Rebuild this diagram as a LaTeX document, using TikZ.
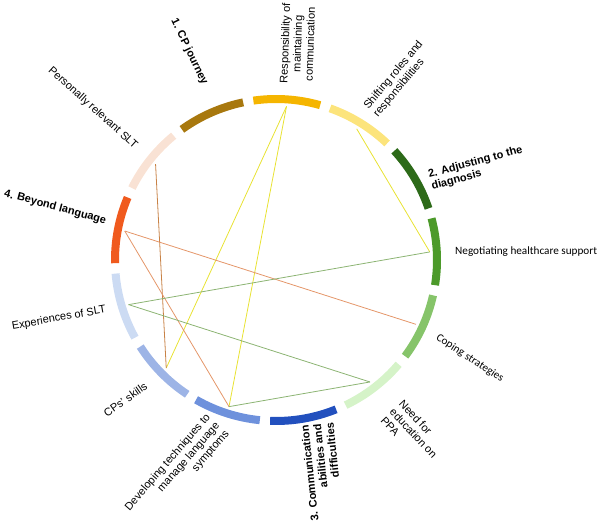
\documentclass[tikz,border=0pt]{standalone}
\usepackage{fontspec}
\setmainfont{Liberation Sans}
\newfontfamily\calibrifont{Carlito}
\usepackage{tikz}
\definecolor{negcol}{RGB}{76,154,42}
\definecolor{adjcol}{RGB}{45,106,25}
\definecolor{shicol}{RGB}{252,228,124}
\definecolor{rescol}{RGB}{245,181,0}
\definecolor{cpjcol}{RGB}{168,120,14}
\definecolor{percol}{RGB}{249,226,212}
\definecolor{beycol}{RGB}{240,90,30}
\definecolor{expcol}{RGB}{204,219,243}
\definecolor{skicol}{RGB}{157,180,230}
\definecolor{devcol}{RGB}{110,145,220}
\definecolor{comcol}{RGB}{34,80,190}
\definecolor{neecol}{RGB}{213,243,200}
\definecolor{copcol}{RGB}{134,196,106}
\definecolor{linkyellow}{RGB}{232,226,50}
\definecolor{linkbrown}{RGB}{200,130,70}
\definecolor{linkorange}{RGB}{228,150,105}
\definecolor{linkgreen}{RGB}{140,180,115}

\begin{document}
\begin{tikzpicture}[x=1pt, y=1pt,
    seg/.style={line width=8pt},
    link/.style={line width=0.8pt},
    lbl/.style={inner sep=0pt, font=\fontsize{11}{12.5}\selectfont},
    theme/.style={inner sep=0pt, font=\fontsize{11}{12.5}\selectfont\bfseries},
    cal/.style={inner sep=0pt, font=\calibrifont\fontsize{11.2}{13}\selectfont},
]
    \useasboundingbox (0,0) rectangle (598,527);

    % Segments round the circle
    \begin{scope}[shift={(276,267)}]
        \foreach \name/\col [count=\k from 0] in {neg/negcol, adj/adjcol, shi/shicol,
            res/rescol, cpj/cpjcol, per/percol, bey/beycol, exp/expcol, ski/skicol,
            dev/devcol, com/comcol, nee/neecol, cop/copcol} {
            \pgfmathsetmacro{\segang}{3+\k*360/13}
            \draw[seg, \col] (\segang-12:161) arc[start angle=\segang-12, end angle=\segang+12, radius=161];
            \coordinate (\name) at (\segang:154);
        }
    \end{scope}

    % Links
    \draw[link, linkyellow] (res) -- (ski);
    \draw[link, linkyellow] (res) -- (dev);
    \draw[link, linkyellow] (shi) -- (neg);
    \draw[link, linkbrown] (per) -- (ski);
    \draw[link, linkorange] (bey) -- (cop);
    \draw[link, linkorange] (bey) -- (dev);
    \draw[link, linkgreen] (exp) -- (neg);
    \draw[link, linkgreen] (exp) -- (nee);
    \draw[link, linkgreen] (dev) -- (nee);

    % Labels
    \node[cal, anchor=west] (negl) at (455,275) {Negotiating healthcare support};
    \node[theme, anchor=west, rotate=15, align=left] (adjl) at (430,346) {2. Adjusting to the\\diagnosis};
    \node[lbl, anchor=west, rotate=50, align=left] (shil) at (371,415) {Shifting roles and\\responsibilities};
    \node[lbl, anchor=west, rotate=88, align=center] (resl) at (296,443) {Responsibility of\\maintaining\\communication};
    \node[theme, anchor=east, rotate=-64] (cpjl) at (205,443) {1. CP journey};
    \node[lbl, anchor=east, rotate=-42] (perl) at (136,380) {Personally relevant SLT};
    \node[theme, anchor=east, rotate=-15] (beyl) at (106,306) {4. Beyond language};
    \node[lbl, anchor=east, rotate=10] (expl) at (106,217) {Experiences of SLT};
    \node[lbl, anchor=east, rotate=35] (skil) at (146,142) {CPs' skills};
    \node[lbl, anchor=east, rotate=49, align=right] (devl) at (218,103) {Developing techniques to\\manage language\\symptoms};
    \node[theme, anchor=east, rotate=96, align=right] (coml) at (317,103) {3. Communication\\abilities and\\difficulties};
    \node[lbl, anchor=west, rotate=-47, align=left] (neel) at (392,117) {Need for\\education on\\PPA};
    \node[cal, anchor=west, rotate=-33] (copl) at (437,190) {Coping strategies};
\end{tikzpicture}
\end{document}
